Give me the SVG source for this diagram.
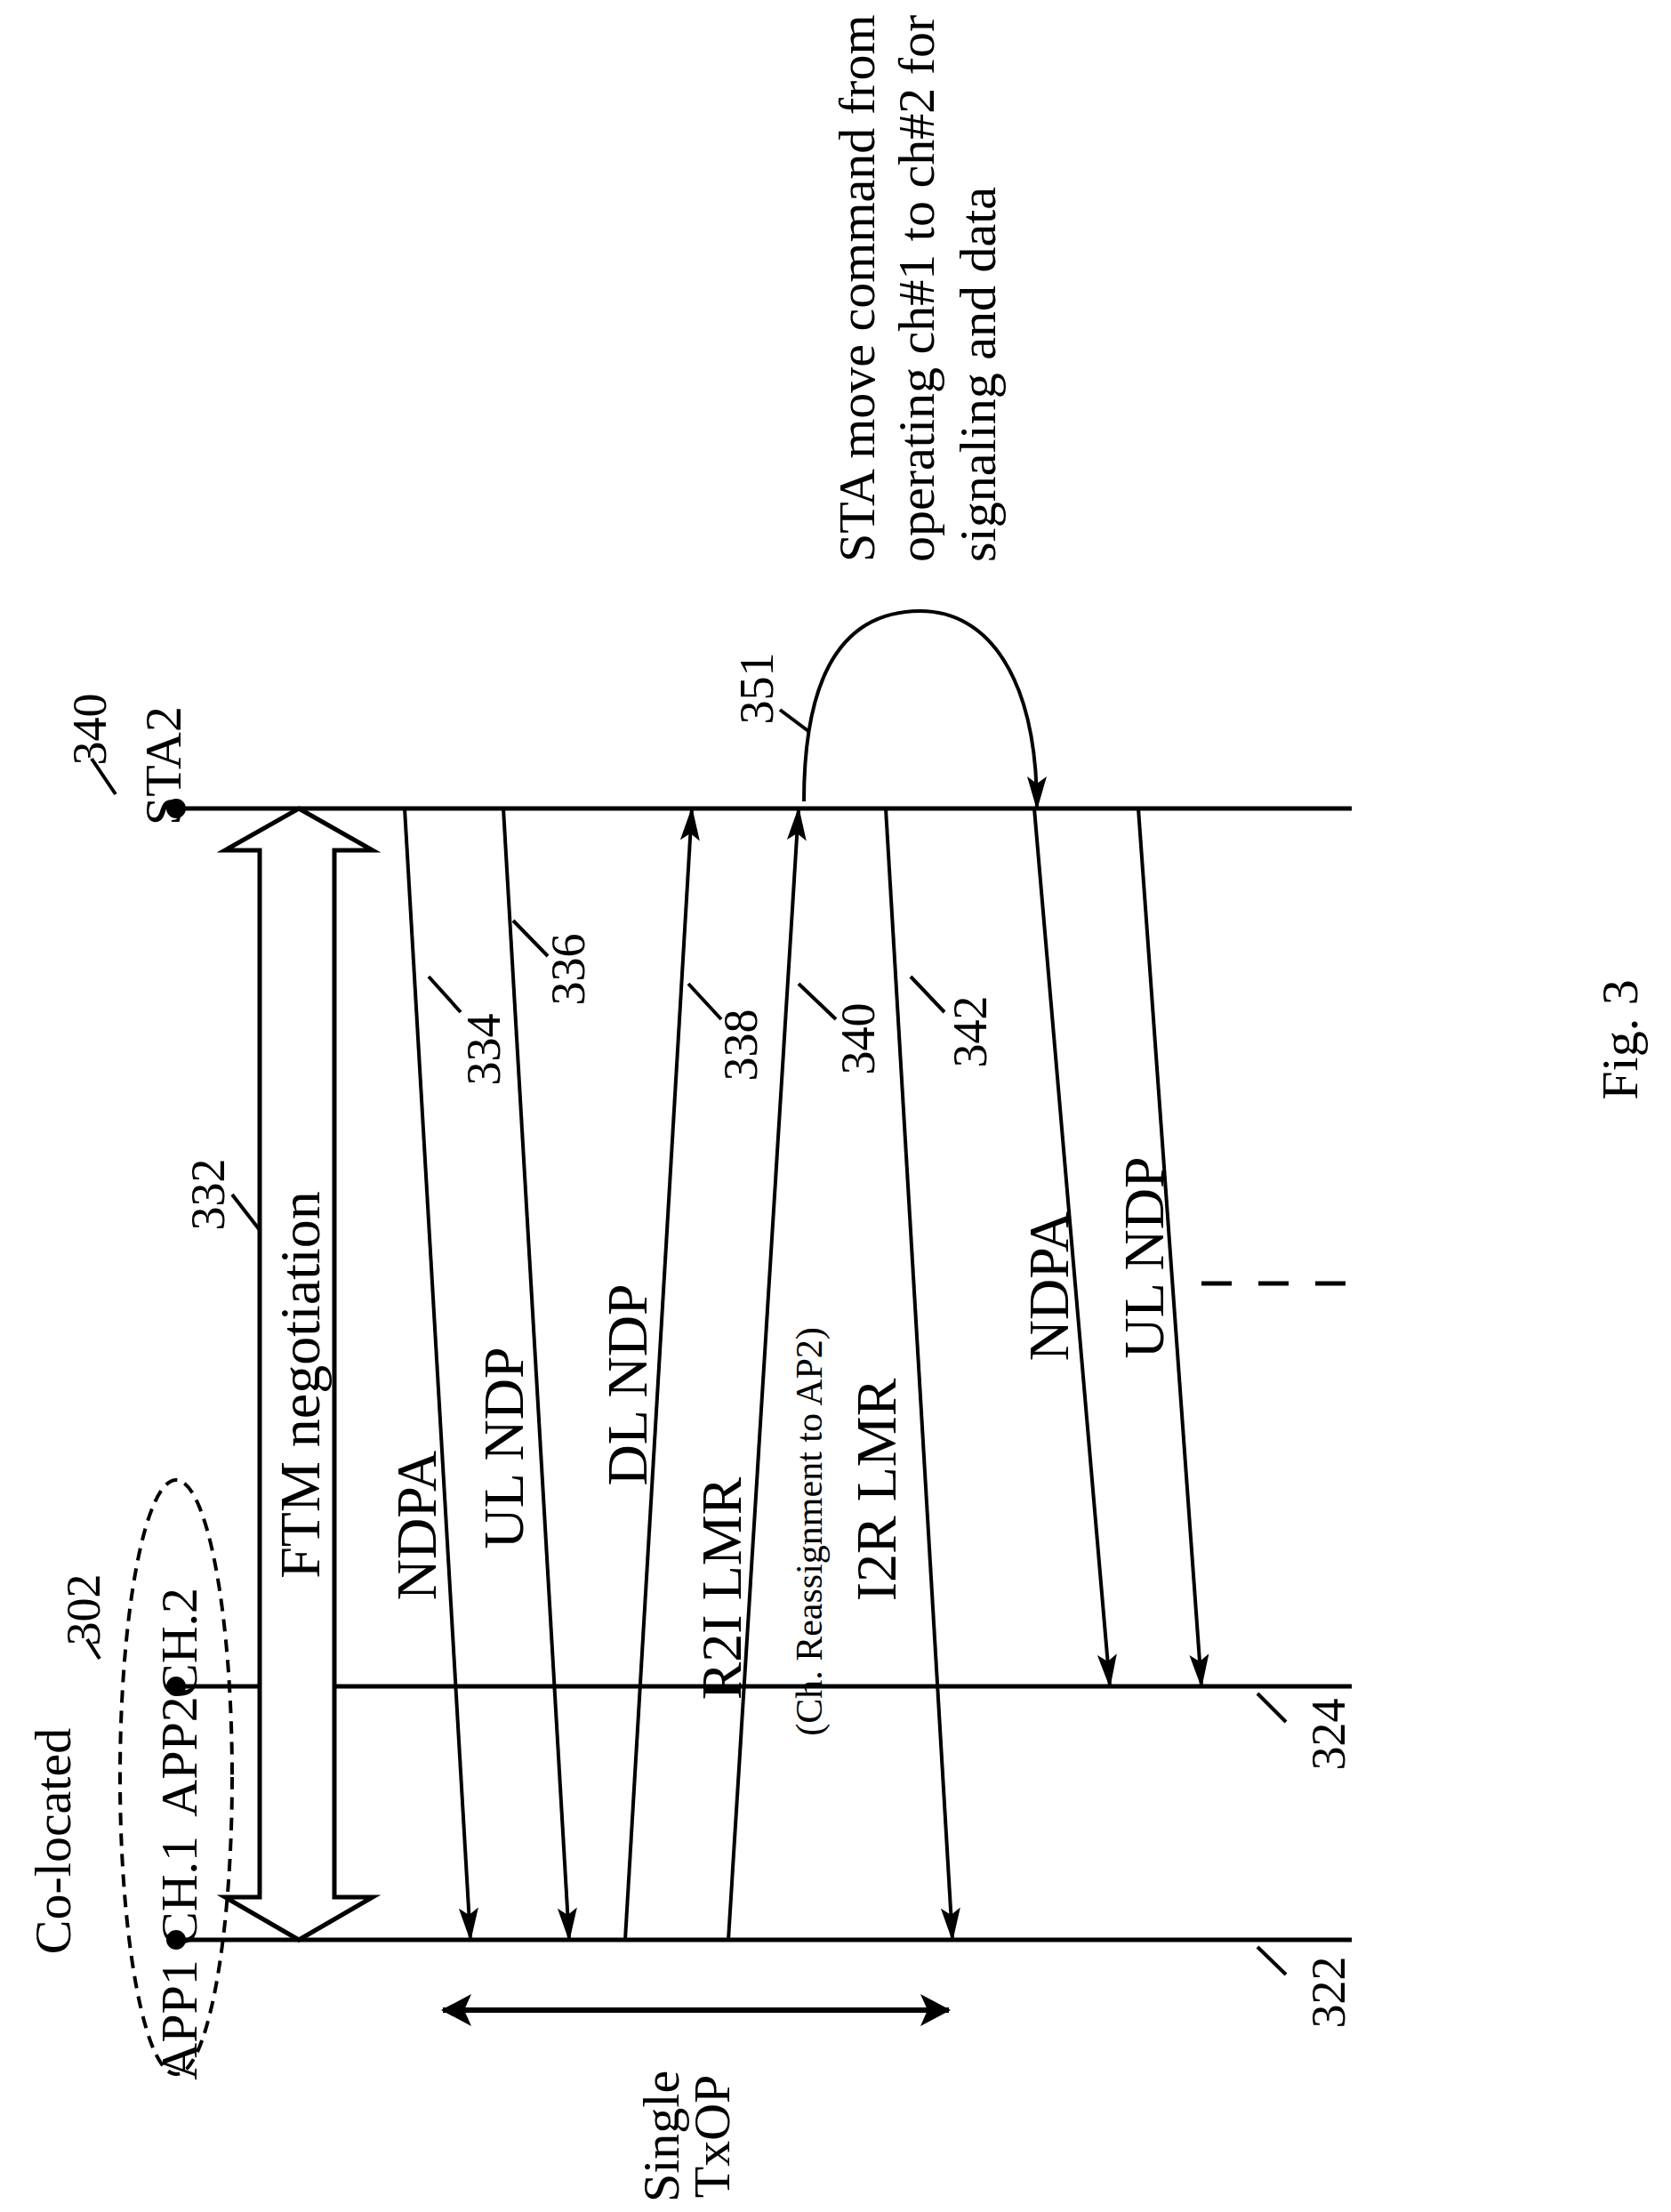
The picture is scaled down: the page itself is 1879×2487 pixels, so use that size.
<svg xmlns="http://www.w3.org/2000/svg" width="1879" height="2487" viewBox="0 0 1879 2487">
<style>
text{font-family:"Liberation Serif",serif;fill:#000}
.t{font-size:64px;text-anchor:middle}
.m{font-size:58px;text-anchor:middle}
.n{font-size:54px;text-anchor:middle}
.s{font-size:42px;text-anchor:middle}
.l{stroke:#000;stroke-width:5;fill:none}
.a{stroke:#000;stroke-width:4;fill:none;marker-end:url(#ah)}
</style>
<defs>
<marker id="ah" viewBox="0 0 38 22" refX="36" refY="11" markerWidth="38" markerHeight="22" markerUnits="userSpaceOnUse" orient="auto"><path d="M0,0 L38,11 L0,22 L8,11 Z" fill="#000"/></marker>
<marker id="ah2" viewBox="0 0 34 36" refX="32" refY="18" markerWidth="34" markerHeight="36" markerUnits="userSpaceOnUse" orient="auto-start-reverse"><path d="M0,0 L34,18 L0,36 L8,18 Z" fill="#000"/></marker>
</defs>
<g id="lifelines">
<line class="l" x1="198" y1="909" x2="1520" y2="909"/><circle cx="198" cy="909" r="11"/>
<line class="l" x1="198" y1="1896" x2="1520" y2="1896"/><circle cx="198" cy="1896" r="11"/>
<line class="l" x1="198" y1="2181" x2="1520" y2="2181"/><circle cx="198" cy="2181" r="11"/>
<ellipse cx="198" cy="1998" rx="63" ry="334" fill="none" stroke="#000" stroke-width="4" stroke-dasharray="14,9"/>
</g>
<g id="ftm">
<path d="M336,909 L419,956 L376,956 L376,2133 L419,2133 L336,2181 L253,2133 L292,2133 L292,956 L253,956 Z" fill="#fff" stroke="#000" stroke-width="5"/>
<text class="t" transform="translate(359,1557) rotate(-90)">FTM negotiation</text>
</g>
<g id="connectors">
<line class="a" x1="455" y1="909" x2="529" y2="2181"/>
<line class="a" x1="566" y1="909" x2="640" y2="2181"/>
<line class="a" x1="703" y1="2181" x2="778" y2="909"/>
<line class="a" x1="819" y1="2181" x2="898" y2="909"/>
<line class="a" x1="996" y1="909" x2="1071" y2="2181"/>
<line class="a" x1="1163" y1="909" x2="1248" y2="1896"/>
<line class="a" x1="1280" y1="909" x2="1351" y2="1896"/>
<line x1="1351" y1="1443" x2="1520" y2="1443" stroke="#000" stroke-width="5" stroke-dasharray="34,30"/>
<path class="a" d="M904,901 C904,740 960,687 1035,687 C1110,687 1166,760 1166,909"/>
<line x1="498" y1="2260" x2="1067" y2="2260" stroke="#000" stroke-width="6" marker-start="url(#ah2)" marker-end="url(#ah2)"/>
</g>
<g id="leaders" stroke="#000" stroke-width="4">
<line x1="261" y1="1343" x2="292" y2="1383"/>
<line x1="482" y1="1098" x2="518" y2="1138"/>
<line x1="577" y1="1035" x2="616" y2="1075"/>
<line x1="774" y1="1106" x2="811" y2="1146"/>
<line x1="898" y1="1106" x2="940" y2="1146"/>
<line x1="1024" y1="1098" x2="1062" y2="1138"/>
<line x1="877" y1="798" x2="909" y2="822"/>
<line x1="103" y1="853" x2="130" y2="893"/>
<line x1="98" y1="1843" x2="112" y2="1865"/>
<line x1="1414" y1="1904" x2="1446" y2="1936"/>
<line x1="1414" y1="2189" x2="1446" y2="2220"/>
</g>
<g id="labels">
<text class="t" transform="translate(490,1715) rotate(-90)">NDPA</text>
<text class="t" transform="translate(588,1628) rotate(-90)">UL NDP</text>
<text class="t" transform="translate(727,1557) rotate(-90)">DL NDP</text>
<text class="t" transform="translate(833,1786) rotate(-90)">R2I LMR</text>
<text class="s" transform="translate(924,1722) rotate(-90)">(Ch. Reassignment to AP2)</text>
<text class="t" transform="translate(1007,1675) rotate(-90)">I2R LMR</text>
<text class="t" transform="translate(1201,1446) rotate(-90)">NDPA</text>
<text class="t" transform="translate(1308,1414) rotate(-90)">UL NDP</text>
<text class="n" transform="translate(252,1343) rotate(-90)">332</text>
<text class="n" transform="translate(562,1180) rotate(-90)">334</text>
<text class="n" transform="translate(657,1090) rotate(-90)">336</text>
<text class="n" transform="translate(851,1175) rotate(-90)">338</text>
<text class="n" transform="translate(983,1168) rotate(-90)">340</text>
<text class="n" transform="translate(1109,1160) rotate(-90)">342</text>
<text class="n" transform="translate(869,774) rotate(-90)">351</text>
<text class="n" transform="translate(119,820) rotate(-90)">340</text>
<text class="n" transform="translate(112,1810) rotate(-90)">302</text>
<text class="n" transform="translate(1512,1950) rotate(-90)">324</text>
<text class="n" transform="translate(1512,2240) rotate(-90)">322</text>
<text class="m" transform="translate(203,861) rotate(-90)">STA2</text>
<text class="m" transform="translate(79,2070) rotate(-90)">Co-located</text>
<text class="m" transform="translate(221,2271) rotate(-90)">APP1</text>
<text class="m" transform="translate(221,2126) rotate(-90)">CH.1</text>
<text class="m" transform="translate(221,1975) rotate(-90)">APP2</text>
<text class="m" transform="translate(221,1847) rotate(-90)">CH.2</text>
<text class="m" transform="translate(763,2402) rotate(-90)">Single</text>
<text class="m" transform="translate(820,2402) rotate(-90)">TxOP</text>
<text class="m" transform="translate(1841,1169) rotate(-90)">Fig. 3</text>
<text style="font-size:58px" transform="translate(983,632) rotate(-90)">STA move command from</text>
<text style="font-size:58px" transform="translate(1050,632) rotate(-90)">operating ch#1 to ch#2 for</text>
<text style="font-size:58px" transform="translate(1119,632) rotate(-90)">signaling and data</text>
</g>
</svg>
